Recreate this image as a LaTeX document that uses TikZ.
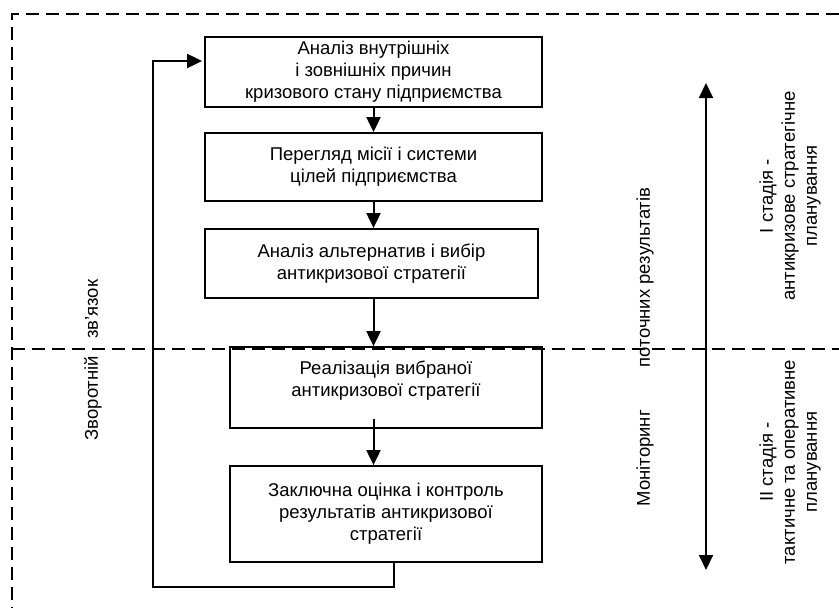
\documentclass[tikz,border=0pt]{standalone}
\usepackage{fontspec}
\setmainfont{Liberation Sans}
\usetikzlibrary{arrows.meta,calc}
\begin{document}
\begin{tikzpicture}[x=1pt,y=-1pt,
  txt/.style={align=center,font=\fontsize{18.5}{22}\selectfont,inner sep=0pt},
  box/.style={draw,line width=1.8pt,txt},
  lab/.style={txt,rotate=90},
  conn/.style={line width=2pt,-{Triangle[length=15pt,width=14pt]}},
  frameline/.style={line width=1.8pt,dash pattern=on 13pt off 7pt}]
\useasboundingbox (0,0) rectangle (839,608);
% dashed frame
\draw[frameline] (839,14) -- (12,14) -- (12,608);
\draw[frameline] (12,349) -- (839,349);
% boxes
\node[box,minimum width=337pt,minimum height=70pt] (b1) at (373.5,72)
  {Аналіз внутрішніх\\і зовнішніх причин\\кризового стану підприємства};
\node[box,minimum width=337pt,minimum height=68pt] (b2) at (373.5,167)
  {Перегляд місії і системи\\цілей підприємства};
\node[box,minimum width=333pt,minimum height=69pt] (b3) at (371.5,263.5)
  {Аналіз альтернатив і вибір\\антикризової стратегії};
\node[box,minimum width=312pt,minimum height=81pt] (b4) at (386,387.5) {};
\node[txt] (b4t) at (386,381) {Реалізація вибраної\\антикризової стратегії};
\node[box,minimum width=312pt,minimum height=96pt] (b5) at (386,514)
  {Заключна оцінка і контроль\\результатів антикризової\\стратегії};
% connectors
\draw[conn] (b1.south) -- (b2.north);
\draw[conn] (b2.south) -- (b3.north -| b2.south);
\draw[conn] (b3.south -| b1.south) -- (b4.north -| b1.south);
\draw[conn] ($(b4.south -| b1.south)+(0,-10)$) -- (b5.north -| b1.south);
\draw[conn] ($(b5.south)+(8,0)$) -- ++(0,24) -| ($(b1.west)+(-51,-11)$) -- ($(b1.west)+(-2,-11)$);
% stage arrow
\coordinate (sttop) at (706,83);
\coordinate (stbot) at (706,570);
\draw[line width=2pt,{Triangle[length=15pt,width=14pt]}-{Triangle[length=15pt,width=14pt]}] (sttop) -- (stbot);
% labels
\node[lab] (fb) at (93,360) {Зворотній\hspace{17pt}зв’язок};
\node[lab] (mon) at (645,347) {Моніторинг\hspace{43pt}поточних результатів};
\node[lab] (st1) at (790,196) {І стадія -\\антикризове стратегічне\\планування};
\node[lab] (st2) at (790,462) {ІІ стадія -\\тактичне та оперативне\\планування};
\end{tikzpicture}
\end{document}
